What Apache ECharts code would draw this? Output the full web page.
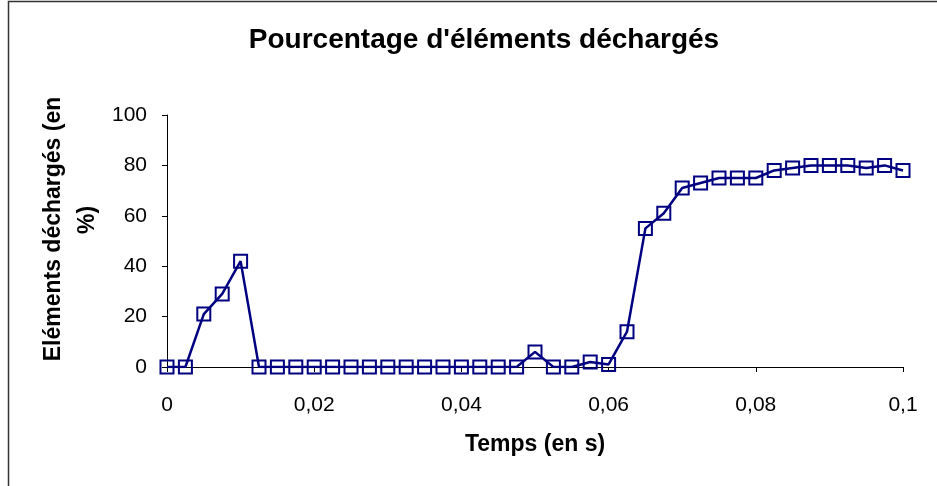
<!DOCTYPE html>
<html>
<head>
<meta charset="utf-8">
<script src="https://cdn.jsdelivr.net/npm/echarts@6/dist/echarts.min.js"></script>
<style>
  html, body { margin: 0; padding: 0; background: #fff; }
  #chart { width: 937px; height: 486px; }
</style>
</head>
<body>
<div id="chart"></div>
<script>
// Temps (s), pas de 0,0025 s
const temps = [
  0, 0.0025, 0.005, 0.0075, 0.01, 0.0125, 0.015, 0.0175, 0.02, 0.0225,
  0.025, 0.0275, 0.03, 0.0325, 0.035, 0.0375, 0.04, 0.0425, 0.045, 0.0475,
  0.05, 0.0525, 0.055, 0.0575, 0.06, 0.0625, 0.065, 0.0675, 0.07, 0.0725,
  0.075, 0.0775, 0.08, 0.0825, 0.085, 0.0875, 0.09, 0.0925, 0.095, 0.0975, 0.1
];
// Pourcentage d'éléments déchargés (%)
const pourcentage = [
  0, 0, 21, 29, 42, 0, 0, 0, 0, 0,
  0, 0, 0, 0, 0, 0, 0, 0, 0, 0,
  6, 0, 0, 2, 1, 14, 55, 61, 71, 73,
  75, 75, 75, 78, 79, 80, 80, 80, 79, 80, 78
];
const xTicks = [0, 0.02, 0.04, 0.06, 0.08, 0.1];

const titre = "Pourcentage d'éléments déchargés";
const titreX = 'Temps (en s)';
const titreY1 = 'Eléments déchargés (en';
const titreY2 = '%)';

const navy = '#000080';
const font = '"Liberation Sans", Arial, sans-serif';

const chart = echarts.init(document.getElementById('chart'), null, { renderer: 'canvas' });

chart.setOption({
  backgroundColor: '#fff',
  animation: false,
  title: {
    text: titre,
    left: 479, top: 21, textAlign: 'center',
    textStyle: { fontFamily: font, fontWeight: 'bold', fontSize: 28, color: '#000' }
  },
  grid: { left: 167, right: 34, top: 115, bottom: 119, containLabel: false },
  xAxis: {
    type: 'value',
    min: 0, max: 0.1, interval: 0.02,
    name: titreX,
    nameLocation: 'middle',
    nameGap: 66,
    nameTextStyle: { fontFamily: font, fontWeight: 'bold', fontSize: 23, color: '#000' },
    axisLine: { show: true, lineStyle: { color: '#000', width: 1 } },
    axisTick: { show: true, length: 5, lineStyle: { color: '#000' } },
    splitLine: { show: false },
    axisLabel: {
      margin: 28,
      fontFamily: font, fontSize: 21, color: '#000',
      formatter: v => {
        const t = xTicks.find(k => Math.abs(k - v) < 1e-9);
        return t === undefined ? '' : String(t).replace('.', ',');
      }
    }
  },
  yAxis: {
    type: 'value',
    min: 0, max: 100, interval: 20,
    axisLine: { show: true, lineStyle: { color: '#000', width: 1 } },
    axisTick: { show: true, length: 5, lineStyle: { color: '#000' } },
    splitLine: { show: false },
    axisLabel: { margin: 20, fontFamily: font, fontSize: 21, color: '#000' }
  },
  graphic: [
    {
      type: 'rect',
      shape: { x: 8.5, y: 1.5, width: 1000, height: 600 },
      style: { fill: 'none', stroke: '#333', lineWidth: 1.5 },
      silent: true, z: -1
    },
    {
      type: 'text',
      x: 54, y: 229,
      rotation: Math.PI / 2,
      style: {
        text: titreY1,
        fontFamily: font, fontWeight: 'bold', fontSize: 23,
        fill: '#000',
        textAlign: 'center', textVerticalAlign: 'middle'
      }
    },
    {
      type: 'text',
      x: 88, y: 220,
      rotation: Math.PI / 2,
      style: {
        text: titreY2,
        fontFamily: font, fontWeight: 'bold', fontSize: 23,
        fill: '#000',
        textAlign: 'center', textVerticalAlign: 'middle'
      }
    }
  ],
  series: [{
    type: 'line',
    data: temps.map((t, i) => [t, pourcentage[i]]),
    symbol: 'rect',
    symbolSize: 13,
    showAllSymbol: true,
    lineStyle: { color: navy, width: 2.5 },
    itemStyle: { color: 'transparent', borderColor: navy, borderWidth: 2 },
    emphasis: { disabled: true },
    z: 3
  }]
});
</script>
</body>
</html>
